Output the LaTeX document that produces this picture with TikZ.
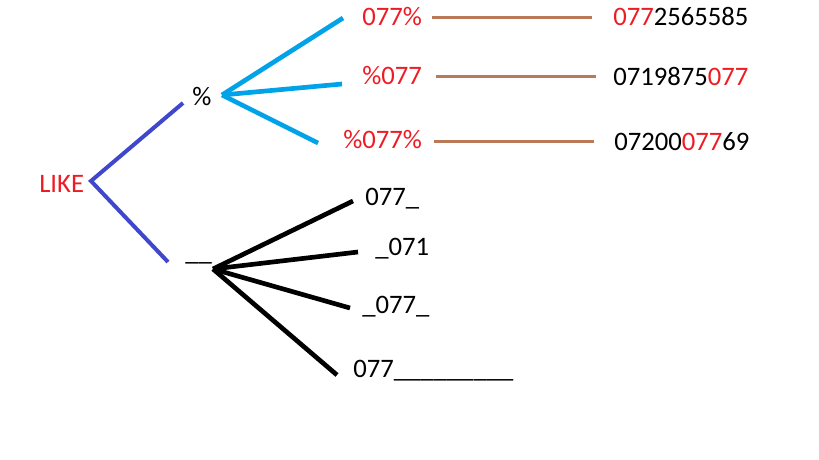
\documentclass[tikz,border=0pt]{standalone}
\usepackage{fontspec}
\setmainfont{Carlito}
\usetikzlibrary{positioning}
\definecolor{myred}{RGB}{237,28,36}
\definecolor{myblue}{RGB}{63,72,204}
\definecolor{mycyan}{RGB}{0,162,232}
\definecolor{mybrown}{RGB}{185,122,87}

\begin{document}
\begin{tikzpicture}[x=0.75pt,y=-0.75pt,
	every node/.style={inner sep=0pt,anchor=base west,font=\fontsize{20}{24}\selectfont},
	rednode/.style={text=myred},
	likeedge/.style={myblue,line width=3pt},
	pctedge/.style={mycyan,line width=3.5pt},
	undedge/.style={black,line width=3.5pt},
	matchedge/.style={mybrown,line width=2.25pt},
	]
	\useasboundingbox (0,0) rectangle (819,460);
	
	% the root
	\node[rednode] (like) at (39,193) {LIKE};
	\coordinate (likej) at (91,181);
	\coordinate (likeu) at (183,103);
	\coordinate (liked) at (168,262);
	
	% the wildcards
	\node (pct) at (192,106) {\%};
	\node (und) at (185,261) {\_\_};
	\coordinate (pctj) at (222,95);
	\coordinate (undj) at (213,269);
	
	% the patterns with %
	\node[rednode] (p1) at (362,26) {077\%};
	\node[rednode] (p2) at (362,85) {\%077};
	\node[rednode] (p3) at (343,149) {\%077\%};
	\foreach \i/\x/\y in {1/343/18,2/342/84,3/318/143}
	\coordinate (pe\i) at (\x,\y);
	
	% the patterns with _
	\node (u1) at (365,206) {077\_};
	\node (u2) at (375,256) {\_071};
	\node (u3) at (362,313) {\_077\_};
	\node (u4) at (353,377) {077\_\_\_\_\_\_\_\_\_};
	\foreach \i/\x/\y in {1/353/201,2/358/252,3/350/308,4/337/375}
	\coordinate (ue\i) at (\x,\y);
	
	% the numbers
	\node (n1) at (613,26) {\textcolor{myred}{077}2565585};
	\node (n2) at (613,86) {0719875\textcolor{myred}{077}};
	\node (n3) at (614,151) {07200\textcolor{myred}{077}69};
	\foreach \i/\a/\b/\y in {1/432/592/18,2/436/596/77,3/434/594/142}
	{
		\coordinate (ma\i) at (\a,\y);
		\coordinate (mb\i) at (\b,\y);
	}
	
	% the edges
	\draw[likeedge] (likeu) -- (likej) -- (liked);
	\foreach \i in {1,2,3}
	\draw[pctedge] (pctj) -- (pe\i);
	\foreach \i in {1,2,3,4}
	\draw[undedge] (undj) -- (ue\i);
	\foreach \i in {1,2,3}
	\draw[matchedge] (ma\i) -- (mb\i);
\end{tikzpicture}
\end{document}
